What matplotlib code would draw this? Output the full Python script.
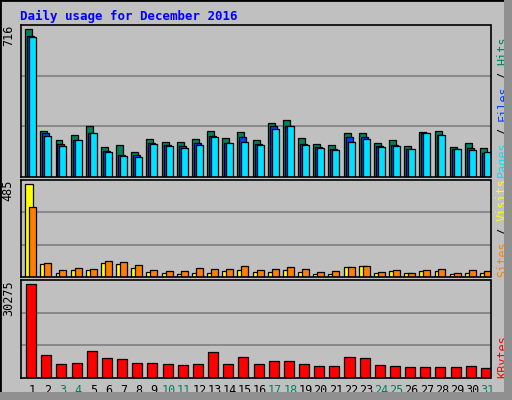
import numpy as np
import matplotlib.pyplot as plt
from matplotlib.patches import Rectangle

days = list(range(1, 32))
weekend = {3, 4, 10, 11, 17, 18, 24, 25, 31}

hits = [716, 225, 181, 206, 249, 147, 157, 123, 186, 172, 172, 186, 225, 191, 220, 177,
        264, 275, 191, 162, 157, 215, 215, 167, 177, 152, 220, 225, 147, 167, 143]
files = [682, 211, 162, 177, 215, 128, 109, 109, 167, 157, 152, 167, 201, 167, 196, 162,
         245, 245, 162, 147, 138, 196, 196, 152, 157, 138, 211, 206, 138, 143, 118]
pages = [677, 201, 152, 177, 215, 123, 104, 99, 162, 152, 143, 157, 196, 167, 172, 157,
         235, 245, 157, 143, 133, 172, 186, 147, 152, 138, 211, 206, 138, 133, 123]
sites = [485, 69, 21, 37, 37, 74, 69, 47, 26, 21, 16, 21, 21, 32, 37, 26,
         26, 37, 26, 16, 16, 53, 58, 21, 32, 21, 32, 32, 16, 21, 21]
visits = [364, 74, 37, 47, 42, 84, 79, 63, 37, 32, 32, 47, 42, 42, 58, 37,
          42, 53, 42, 26, 32, 53, 58, 26, 37, 21, 37, 42, 21, 37, 32]
kbytes = [30275, 7400, 4420, 4750, 8730, 6410, 6080, 4750, 4750, 4420, 4090, 4420, 8400,
          4420, 6740, 4420, 5410, 5410, 4420, 3760, 3760, 6740, 6410, 4090, 3760, 3430,
          3430, 3430, 3430, 3760, 3090]

C_HITS, C_FILES, C_PAGES = "#00805C", "#0040FF", "#00E0FF"
C_SITES, C_VISITS, C_KB = "#FFFF00", "#FF8000", "#FF0000"
GREY = "#C0C0C0"
MONO = "DejaVu Sans Mono"

W, H = 512, 400
fig = plt.figure(figsize=(W / 100, H / 100), dpi=100, facecolor=GREY)

# outer bevel frame
fig.patches.append(Rectangle((0, 0), 1, 1, transform=fig.transFigure, fill=False,
                             edgecolor="black", lw=2))
fig.patches.append(Rectangle((1 - 8 / W, 0), 8 / W, 1, transform=fig.transFigure,
                             facecolor="#909090", edgecolor="none"))
fig.patches.append(Rectangle((0, 0), 1, 8 / H, transform=fig.transFigure,
                             facecolor="#909090", edgecolor="none"))

fig.text(20 / W, 1 - 16 / H, "Daily usage for December 2016", color="#0000FF",
         fontsize=9, fontweight="bold", family=MONO, va="center")

x0, x1 = 20.5, 490.5


def make_ax(top, bottom, ymax):
    ax = fig.add_axes([x0 / W, 1 - bottom / H, (x1 - x0) / W, (bottom - top) / H])
    ax.set_facecolor(GREY)
    ax.set_xlim(0, 31)
    ax.set_ylim(0, ymax)
    for v in (ymax / 3, 2 * ymax / 3):
        ax.axhline(v, color="#808080", lw=1.2, zorder=0)
    ax.set_xticks([])
    ax.set_yticks([])
    for s in ax.spines.values():
        s.set_linewidth(1.2)
    return ax


idx = np.arange(31)
ekw = dict(edgecolor="black", linewidth=0.9, align="edge")

ax1 = make_ax(25, 177, 737)
ax1.bar(idx + 0.31, hits, 0.46, color=C_HITS, **ekw)
ax1.bar(idx + 0.44, files, 0.46, color=C_FILES, **ekw)
ax1.bar(idx + 0.57, pages, 0.46, color=C_PAGES, **ekw)

ax2 = make_ax(180, 277, 508)
ax2.bar(idx + 0.31, sites, 0.53, color=C_SITES, **ekw)
ax2.bar(idx + 0.57, visits, 0.46, color=C_VISITS, **ekw)

ax3 = make_ax(280, 378, 31600)
ax3.bar(idx + 0.37, kbytes, 0.66, color=C_KB, **ekw)

for ax, txt in ((ax1, "716"), (ax2, "485"), (ax3, "30275")):
    ax.text(-0.012, 1.0, txt, transform=ax.transAxes, rotation=90, ha="right",
            va="top", fontsize=8.5, family=MONO)

for d in days:
    ax3.text(d - 1 + 0.8, -0.06, str(d), transform=ax3.get_xaxis_transform(),
             ha="center", va="top", fontsize=8.5, family=MONO,
             color=C_HITS if d in weekend else "black")


def side_label(ax, parts):
    # stacked rotated text, bottom to top
    y = 0.0
    for txt, col in parts:
        ax.text(1.012, y, txt, transform=ax.transAxes, rotation=90, ha="left",
                va="bottom", fontsize=8.5, family=MONO, color=col)
        y += len(txt) * 7.0 / (ax.get_position().height * H)


side_label(ax1, [("Pages", C_PAGES), (" / ", "black"), ("Files", C_FILES),
                 (" / ", "black"), ("Hits", C_HITS)])
side_label(ax2, [("Sites", C_VISITS), (" / ", "black"), ("Visits", C_SITES)])
side_label(ax3, [("KBytes", C_KB)])

fig.savefig("out.png", dpi=100, facecolor=GREY)
